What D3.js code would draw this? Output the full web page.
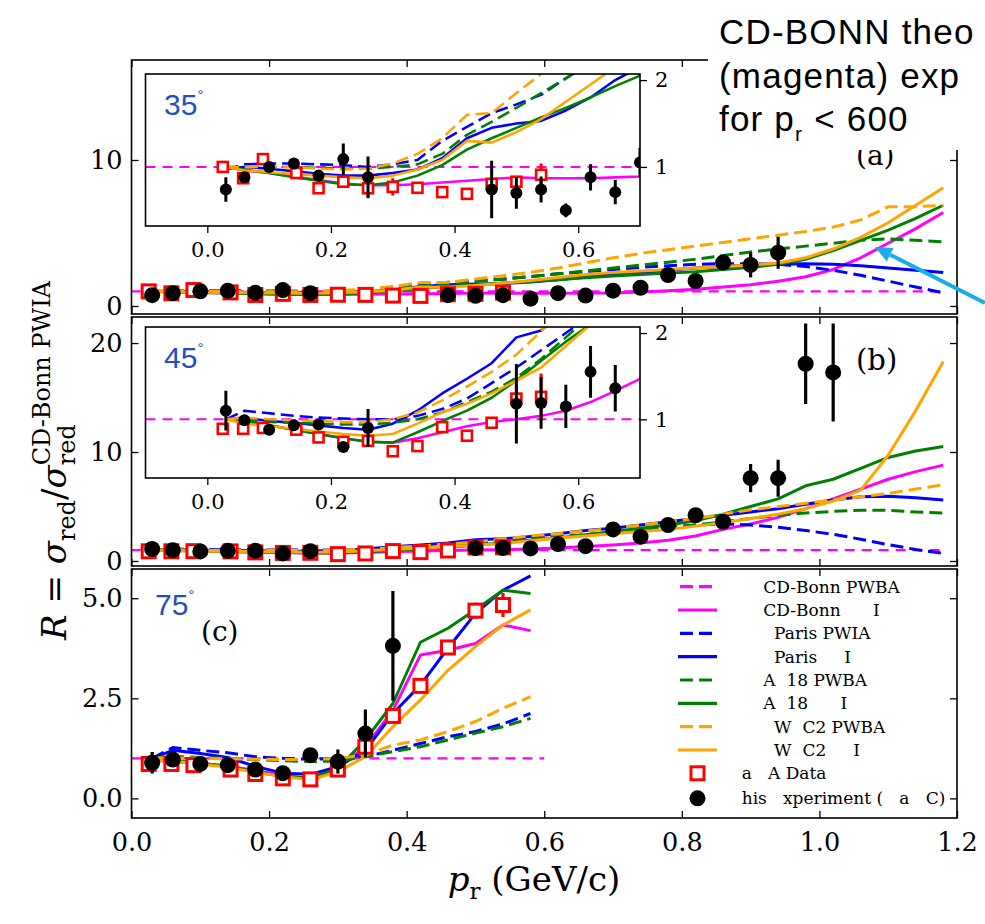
<!DOCTYPE html>
<html><head><meta charset="utf-8">
<script src="https://cdn.jsdelivr.net/npm/d3@7"></script>
<style>body{margin:0;background:#fff} svg{display:block}</style>
</head><body>
<svg id="chart" width="985" height="924"></svg>
<script>
// ---------------- DATA ----------------
const gridAB = [0.03,0.06,0.10,0.14,0.18,0.22,0.26,0.30,0.34,0.38,0.42,0.46,0.50,0.54,0.58,0.62,0.66,0.70,0.74,0.78,0.82,0.86,0.90,0.94,0.98,1.02,1.06,1.10,1.14,1.18];
const gridC = [0.03,0.06,0.10,0.14,0.18,0.22,0.26,0.30,0.34,0.38,0.42,0.46,0.50,0.54,0.58];
const pwbaXab = [-0.1, 1.18];
const pwbaXc = [0.0, 0.6];
const pwbaY = [1, 1];

// panel (a) 35 deg
const a_cdbFSI = [1.0,0.96,0.93,0.89,0.85,0.81,0.79,0.79,0.80,0.82,0.84,0.86,0.88,0.87,0.87,0.87,0.88,0.89,0.95,1.05,1.15,1.3,1.45,1.7,2.0,2.5,3.3,4.3,5.3,6.4];
const a_parPWIA = [0.97,1.03,1.04,1.04,1.03,1.02,1.0,1.03,1.08,1.3,1.46,1.62,1.72,1.83,2.02,2.2,2.35,2.5,2.65,2.75,2.85,2.9,2.9,2.85,2.7,2.45,2.1,1.7,1.3,0.9];
const a_parFSI = [0.98,1.0,0.98,0.95,0.92,0.9,0.9,0.93,0.97,1.1,1.33,1.45,1.5,1.53,1.65,1.8,2.0,2.15,2.3,2.45,2.6,2.7,2.8,2.88,2.9,2.85,2.75,2.6,2.45,2.3];
const a_avPWBA = [1.0,1.0,1.0,1.0,0.99,0.98,0.98,1.0,1.03,1.15,1.37,1.52,1.68,1.85,2.02,2.2,2.4,2.6,2.8,3.0,3.2,3.45,3.7,3.9,4.1,4.3,4.5,4.6,4.5,4.4];
const a_avFSI = [1.0,0.97,0.93,0.88,0.84,0.80,0.79,0.82,0.9,1.02,1.2,1.33,1.45,1.57,1.68,1.8,1.93,2.05,2.15,2.25,2.35,2.5,2.65,2.85,3.2,3.8,4.5,5.2,6.0,6.9];
const a_wjPWBA = [1.0,1.0,1.0,1.0,0.98,0.97,0.98,1.04,1.15,1.33,1.6,1.62,1.85,2.07,2.3,2.6,2.95,3.3,3.6,3.85,4.1,4.35,4.6,4.85,5.1,5.4,5.9,6.8,6.8,6.9];
const a_wjFSI = [1.0,0.96,0.94,0.92,0.9,0.88,0.87,0.9,0.97,1.08,1.3,1.28,1.4,1.55,1.75,1.95,2.15,2.3,2.4,2.5,2.6,2.7,2.8,2.95,3.3,3.9,4.7,5.7,6.9,8.1];
const aBlackX = [0.03,0.06,0.10,0.14,0.18,0.22,0.26,0.46,0.50,0.54,0.58,0.62,0.66,0.70,0.74,0.78,0.82,0.86,0.90,0.94];
const aBlackY = [0.74,0.88,1.0,1.04,0.90,1.09,0.88,0.74,0.70,0.74,0.50,0.88,0.71,1.05,1.25,2.12,1.71,2.97,2.81,3.65];
const aBlackErr = [0.14,0.04,0.04,0.05,0.05,0.18,0.24,0.33,0.18,0.15,0.08,0.15,0.14,0.17,0.2,0.2,0.2,0.5,0.85,1.1];
const redX = [0.025,0.058,0.09,0.144,0.18,0.22,0.26,0.30,0.34,0.38,0.42,0.46,0.50,0.54];
const aRedY = [1.0,0.87,1.09,0.93,0.755,0.83,0.755,0.77,0.76,0.71,0.69,0.805,0.83,0.91];
const aRedErr = [0.02,0.02,0.04,0.02,0.03,0.03,0.1,0.1,0.04,0.02,0.02,0.04,0.05,0.13];

// panel (b) 45 deg
const b_cdbFSI = [1.0,0.97,0.93,0.88,0.83,0.78,0.74,0.73,0.78,0.85,0.92,0.97,1.0,1.04,1.1,1.2,1.33,1.47,1.65,1.9,2.3,2.9,3.4,4.0,4.8,5.7,6.6,7.5,8.2,8.8];
const b_parPWIA = [1.0,1.1,1.07,1.04,1.02,1.01,1.0,1.0,1.04,1.12,1.24,1.42,1.6,1.8,2.0,2.2,2.4,2.6,2.85,3.1,3.3,3.4,3.3,3.1,2.8,2.45,2.0,1.5,1.05,0.7];
const b_parFSI = [1.0,1.02,0.98,0.96,0.93,0.9,0.88,0.95,1.1,1.3,1.47,1.65,1.95,2.03,2.25,2.5,2.8,3.0,3.3,3.6,3.9,4.2,4.5,4.8,5.2,5.6,5.9,5.95,5.8,5.6];
const b_avPWBA = [1.0,0.98,0.97,0.96,0.95,0.94,0.94,0.96,1.0,1.08,1.2,1.32,1.48,1.7,1.95,2.2,2.4,2.6,2.8,3.0,3.3,3.6,3.9,4.2,4.4,4.55,4.65,4.65,4.5,4.4];
const b_avFSI = [1.0,0.97,0.93,0.88,0.83,0.78,0.74,0.73,0.85,0.98,1.1,1.25,1.45,1.68,1.9,2.1,2.4,2.7,3.0,3.3,3.7,4.3,5.0,5.7,6.9,7.5,8.5,9.5,10.1,10.5];
const b_wjPWBA = [1.0,1.02,1.0,0.99,0.98,0.97,0.97,1.0,1.08,1.22,1.38,1.55,1.75,2.02,2.3,2.5,2.75,3.0,3.3,3.6,3.9,4.3,4.7,5.0,5.3,5.6,5.9,6.2,6.6,7.0];
const b_wjFSI = [1.0,0.95,0.92,0.89,0.86,0.83,0.81,0.83,0.95,1.08,1.18,1.3,1.45,1.6,1.85,2.1,2.3,2.5,2.7,2.9,3.2,3.5,3.9,4.3,4.8,5.5,6.5,9.7,13.8,18.3];
const bBlackX = [0.03,0.06,0.10,0.14,0.18,0.22,0.26,0.50,0.54,0.58,0.62,0.66,0.70,0.74,0.78,0.82,0.86,0.90,0.94,0.98,1.02];
const bBlackY = [1.10,0.99,0.88,0.93,0.94,0.68,0.90,1.18,1.19,1.15,1.55,1.36,2.9,2.23,3.3,4.2,3.6,7.6,7.6,18.1,17.3];
const bBlackErr = [0.23,0.03,0.03,0.03,0.06,0.05,0.22,0.46,0.30,0.25,0.30,0.27,0.3,0.3,0.3,0.3,0.3,1.3,1.7,3.7,4.5];
const bRedY = [0.89,0.89,0.90,0.88,0.79,0.74,0.75,0.63,0.69,0.91,0.81,0.96,1.24,1.26];
const bRedErr = [0.02,0.02,0.02,0.02,0.02,0.03,0.05,0.03,0.03,0.04,0.03,0.06,0.16,0.27];

// panel (c) 75 deg
const c_cdbFSI = [0.95,0.92,0.88,0.80,0.70,0.58,0.50,0.75,1.29,2.2,3.58,3.7,3.87,4.33,4.19];
const c_parPWIA = [1.0,1.27,1.2,1.14,1.04,1.0,0.98,1.0,1.04,1.2,1.37,1.54,1.67,1.86,2.12];
const c_parFSI = [1.0,1.2,1.12,1.02,0.8,0.63,0.6,0.79,1.2,2.12,2.83,3.75,4.62,5.2,5.56];
const c_avPWBA = [1.0,1.05,1.02,1.0,0.97,0.94,0.92,0.93,1.04,1.17,1.29,1.46,1.63,1.79,2.0];
const c_avFSI = [0.95,0.95,0.88,0.80,0.66,0.55,0.5,0.75,1.46,2.37,3.9,4.25,4.71,5.2,5.12];
const c_wjPWBA = [1.0,1.02,1.0,0.99,0.98,0.97,0.97,1.0,1.08,1.33,1.46,1.67,1.92,2.25,2.54];
const c_wjFSI = [0.95,0.93,0.86,0.78,0.65,0.55,0.46,0.67,1.04,1.79,2.46,3.2,3.79,4.33,4.71];
const cBlackX = [0.03,0.06,0.10,0.14,0.18,0.22,0.26,0.30,0.34,0.38];
const cBlackY = [0.89,0.97,0.86,0.83,0.72,0.63,1.08,0.92,1.62,3.81];
const cBlackErr = [0.27,0.05,0.05,0.05,0.05,0.05,0.1,0.3,0.6,1.37];
const cRedY = [0.86,0.86,0.83,0.72,0.61,0.50,0.475,0.72,1.29,2.06,2.81,3.77,4.69,4.83];
const cRedErr = [0.03,0.03,0.03,0.03,0.03,0.03,0.03,0.05,0.05,0.08,0.1,0.1,0.2,0.3];

// tick labels / text
const xTicks = [0.0,0.2,0.4,0.6,0.8,1.0,1.2];
const insetXTicks = [0.0,0.2,0.4,0.6];
const insetYTicks = [1, 2];
const aYTicks = [0, 10];
const bYTicks = [0, 10, 20];
const cYTicks = [0.0, 2.5, 5.0];
const legendLabels = ["    CD-Bonn PWBA","    CD-Bonn      I","      Paris PWIA","      Paris     I","    A  18 PWBA","    A  18      I","      W  C2 PWBA","      W  C2     I","a   A Data","his   xperiment (   a   C)"];
const noteLines = ["CD-BONN theo", "(magenta) exp"];

// ---------------- STYLES ----------------
const seriesStyle = [
  {color:'#ff00ff', dash:'10,7', w:2.4},   // CD-Bonn PWBA
  {color:'#ff00ff', dash:null, w:3},       // CD-Bonn FSI
  {color:'#0000ff', dash:'13,6', w:3},     // Paris PWIA
  {color:'#0000ff', dash:null, w:3},       // Paris FSI
  {color:'#008000', dash:'13,6', w:3},     // AV18 PWBA
  {color:'#008000', dash:null, w:3},       // AV18 FSI
  {color:'#ffa500', dash:'13,6', w:3},     // WJC2 PWBA
  {color:'#ffa500', dash:null, w:3}        // WJC2 FSI
];
const SERIF = 'DejaVu Serif';

const svg = d3.select('#chart');
const defs = svg.append('defs');
svg.append('rect').attr('width',985).attr('height',924).attr('fill','#fff');

const X0 = 131.5, X1 = 957;
const x = d3.scaleLinear().domain([0,1.2]).range([X0, X1]);

const panels = [
  {key:'a', top:60, bottom:314, yDomain:[-0.55,16.85], yTicks:aYTicks, fmt:d3.format('d'),
   grid:gridAB, pwbaX:pwbaXab, curves:[a_cdbFSI,a_parPWIA,a_parFSI,a_avPWBA,a_avFSI,a_wjPWBA,a_wjFSI],
   black:[aBlackX,aBlackY,aBlackErr], red:[redX,aRedY,aRedErr],
   inset:{top:74,bottom:226, label:'35'}},
  {key:'b', top:317, bottom:566, yDomain:[-0.46,22.39], yTicks:bYTicks, fmt:d3.format('d'),
   grid:gridAB, pwbaX:pwbaXab, curves:[b_cdbFSI,b_parPWIA,b_parFSI,b_avPWBA,b_avFSI,b_wjPWBA,b_wjFSI],
   black:[bBlackX,bBlackY,bBlackErr], red:[redX,bRedY,bRedErr],
   inset:{top:327,bottom:478, label:'45'}},
  {key:'c', top:569, bottom:818, yDomain:[-0.49,5.73], yTicks:cYTicks, fmt:d3.format('.1f'),
   grid:gridC, pwbaX:pwbaXc, curves:[c_cdbFSI,c_parPWIA,c_parFSI,c_avPWBA,c_avFSI,c_wjPWBA,c_wjFSI],
   black:[cBlackX,cBlackY,cBlackErr], red:[redX,cRedY,cRedErr], inset:null}
];

function drawCurves(g, p, xs, ys, wScale) {
  const line = d3.line().x(d=>xs(d[0])).y(d=>ys(d[1]));
  const all = [d3.zip(p.pwbaX, pwbaY)].concat(p.curves.map(c => d3.zip(p.grid, c)));
  all.forEach((pts, i) => {
    const st = seriesStyle[i];
    g.append('path').attr('d', line(pts)).attr('fill','none')
      .attr('stroke', st.color).attr('stroke-width', st.w*wScale)
      .attr('stroke-dasharray', st.dash).attr('stroke-linejoin','round');
  });
}
function drawMarkers(g, p, xs, ys, o) {
  const [rx, ry, re] = p.red;
  rx.forEach((v,i) => {
    g.append('line').attr('x1',xs(v)).attr('x2',xs(v)).attr('y1',ys(ry[i]-re[i])).attr('y2',ys(ry[i]+re[i]))
      .attr('stroke','#ff0000').attr('stroke-width',o.ew);
  });
  rx.forEach((v,i) => {
    g.append('rect').attr('x',xs(v)-o.s/2).attr('y',ys(ry[i])-o.s/2).attr('width',o.s).attr('height',o.s)
      .attr('fill','#fff').attr('stroke','#ff0000').attr('stroke-width',o.sw);
  });
  const [bx, by, be] = p.black;
  bx.forEach((v,i) => {
    g.append('line').attr('x1',xs(v)).attr('x2',xs(v)).attr('y1',ys(by[i]-be[i])).attr('y2',ys(by[i]+be[i]))
      .attr('stroke','#000').attr('stroke-width',o.ew);
    g.append('circle').attr('cx',xs(v)).attr('cy',ys(by[i])).attr('r',o.r).attr('fill','#000');
  });
}
function styleAxis(g, size) {
  g.select('.domain').remove();
  g.selectAll('line').attr('stroke','#000').attr('stroke-width',1.3);
  g.selectAll('text').attr('font-family',SERIF).attr('font-size',size).attr('fill','#000');
}

panels.forEach(p => {
  const y = d3.scaleLinear().domain(p.yDomain).range([p.bottom, p.top]);
  const clipId = 'clip-' + p.key;
  defs.append('clipPath').attr('id',clipId).append('rect')
    .attr('x',X0).attr('y',p.top).attr('width',X1-X0).attr('height',p.bottom-p.top);
  const g = svg.append('g');
  const plot = g.append('g').attr('clip-path',`url(#${clipId})`);
  drawCurves(plot, p, x, y, 1);
  drawMarkers(plot, p, x, y, {r:8, s:13, sw:3, ew:3.2});

  // axes (inward ticks on all sides)
  const gl = g.append('g').attr('transform',`translate(${X0},0)`)
    .call(d3.axisLeft(y).tickValues(p.yTicks).tickSize(-7).tickPadding(9).tickFormat(p.fmt));
  styleAxis(gl, 25.5);
  const gr = g.append('g').attr('transform',`translate(${X1},0)`)
    .call(d3.axisRight(y).tickValues(p.yTicks).tickSize(-7).tickFormat(''));
  styleAxis(gr, 25.5);
  const gt = g.append('g').attr('transform',`translate(0,${p.top})`)
    .call(d3.axisTop(x).tickValues(xTicks).tickSize(-7).tickFormat(''));
  styleAxis(gt, 25.5);
  const gb = g.append('g').attr('transform',`translate(0,${p.bottom})`)
    .call(d3.axisBottom(x).tickValues(xTicks).tickSize(-7).tickPadding(15)
      .tickFormat(p.key==='c' ? d3.format('.1f') : ''));
  styleAxis(gb, 25.5);
  g.append('rect').attr('x',X0).attr('y',p.top).attr('width',X1-X0).attr('height',p.bottom-p.top)
    .attr('fill','none').attr('stroke','#000').attr('stroke-width',1.6);

  // inset
  if (p.inset) {
    const IL = 145.5, IR = 640;
    const ix = d3.scaleLinear().domain([-0.1,0.7]).range([IL, IR]);
    const iy = d3.scaleLinear().domain([0.32,2.07]).range([p.inset.bottom, p.inset.top]);
    const ig = svg.append('g');
    ig.append('rect').attr('x',IL).attr('y',p.inset.top).attr('width',IR-IL).attr('height',p.inset.bottom-p.inset.top).attr('fill','#fff');
    const icid = 'iclip-' + p.key;
    defs.append('clipPath').attr('id',icid).append('rect')
      .attr('x',IL).attr('y',p.inset.top).attr('width',IR-IL).attr('height',p.inset.bottom-p.inset.top);
    const ip = ig.append('g').attr('clip-path',`url(#${icid})`);
    drawCurves(ip, p, ix, iy, 0.85);
    drawMarkers(ip, p, ix, iy, {r:6, s:10, sw:2.6, ew:3});
    const ib = ig.append('g').attr('transform',`translate(0,${p.inset.bottom})`)
      .call(d3.axisBottom(ix).tickValues(insetXTicks).tickSize(7).tickPadding(9).tickFormat(d3.format('.1f')));
    styleAxis(ib, 21);
    const ir = ig.append('g').attr('transform',`translate(${IR},0)`)
      .call(d3.axisRight(iy).tickValues(insetYTicks).tickSize(7).tickPadding(8).tickFormat(d3.format('d')));
    styleAxis(ir, 21);
    ig.append('rect').attr('x',IL).attr('y',p.inset.top).attr('width',IR-IL).attr('height',p.inset.bottom-p.inset.top)
      .attr('fill','none').attr('stroke','#000').attr('stroke-width',1.6);
    const t = ig.append('text').attr('x',164).attr('y',p.inset.top+41)
      .attr('font-family','Liberation Sans').attr('font-size',30).attr('fill','#1f4fc0');
    t.append('tspan').text(p.inset.label);
    t.append('tspan').attr('font-size',15).attr('dy',-15).text('°');
  }
});

// panel labels
svg.append('text').attr('x',856).attr('y',370).attr('font-family',SERIF).attr('font-size',29).text('(b)');
svg.append('text').attr('x',201).attr('y',641).attr('font-family',SERIF).attr('font-size',28).text('(c)');
svg.append('text').attr('x',856).attr('y',165).attr('font-family',SERIF).attr('font-size',28).text('(a)');
{
  const t = svg.append('text').attr('x',155).attr('y',615)
    .attr('font-family','Liberation Sans').attr('font-size',30).attr('fill','#1f4fc0');
  t.append('tspan').text('75');
  t.append('tspan').attr('font-size',15).attr('dy',-15).text('°');
}

// legend (panel c)
{
  const lg = svg.append('g');
  const ys0 = [586.7,610,633.3,656.7,680,703.3,726.7,750,773.3,798.3];
  legendLabels.forEach((lab, i) => {
    const cy = ys0[i];
    if (i < 8) {
      const st = seriesStyle[i];
      lg.append('line').attr('x1', st.dash ? 680 : 678).attr('x2', st.dash ? 714 : 717)
        .attr('y1',cy).attr('y2',cy).attr('stroke',st.color).attr('stroke-width',3.2)
        .attr('stroke-dasharray', st.dash ? '13,6' : null);
    } else if (i === 8) {
      lg.append('rect').attr('x',691).attr('y',cy-6.5).attr('width',13).attr('height',13)
        .attr('fill','#fff').attr('stroke','#ff0000').attr('stroke-width',3);
    } else {
      lg.append('circle').attr('cx',697.5).attr('cy',cy).attr('r',8).attr('fill','#000');
    }
    lg.append('text').attr('x',741.7).attr('y',cy+6).attr('font-family',SERIF).attr('font-size',17)
      .style('white-space','pre').attr('fill','#000').text(lab);
  });
}

// axis titles
{
  const t = svg.append('text').attr('y',891).attr('font-family',SERIF).attr('font-size',34).attr('fill','#000');
  t.append('tspan').attr('font-style','italic').text('p');
  t.append('tspan').attr('font-size',23).attr('dy',8).text('r');
  t.append('tspan').attr('dy',-8).text(' (GeV/c)');
  const w = t.node().getComputedTextLength();
  t.attr('x', 534 - w/2);
}
{
  const g = svg.append('g').attr('transform','translate(66,640) rotate(-90)');
  let u = 0;
  const add = (txt, size, dy, italic) => {
    const t = g.append('text').attr('x',u).attr('y',dy).attr('font-family',SERIF).attr('font-size',size)
      .attr('font-style', italic ? 'italic' : 'normal').style('white-space','pre').attr('fill','#000').text(txt);
    return t.node().getComputedTextLength();
  };
  u += add('R', 34, 0, true);
  u += add(' = ', 34, 0, false);
  u += add('σ', 34, 0, true);
  u += add('red', 24, 9, false);
  u += add('/', 34, 0, false);
  u += add('σ', 34, 0, true);
  add('red', 24, 9, false);
  add('CD-Bonn PWIA', 24, -16, false);
}

// annotation (overlay)
svg.append('rect').attr('x',708).attr('y',0).attr('width',277).attr('height',150).attr('fill','#fff');
{
  const F = 'Liberation Sans';
  const base = [44, 88];
  noteLines.forEach((s, i) => {
    svg.append('text').attr('x',719).attr('y',base[i]).attr('font-family',F).attr('font-size',35)
      .attr('letter-spacing',1.2).attr('fill','#000').text(s);
  });
  const t = svg.append('text').attr('x',719).attr('y',131).attr('font-family',F).attr('font-size',35)
    .attr('letter-spacing',1.2).attr('fill','#000');
  t.append('tspan').text('for p');
  t.append('tspan').attr('font-size',21).attr('dy',10).text('r');
  t.append('tspan').attr('dy',-10).text(' < 600');
}
// cyan arrow
{
  const tip = [875,247], tail = [985,303];
  const dx = tip[0]-tail[0], dy = tip[1]-tail[1], L = Math.hypot(dx,dy);
  const ux = dx/L, uy = dy/L, hl = 17, hw = 7.5;
  const bx = tip[0]-ux*hl, by = tip[1]-uy*hl;
  svg.append('line').attr('x1',tail[0]).attr('y1',tail[1]).attr('x2',bx).attr('y2',by)
    .attr('stroke','#1aaee8').attr('stroke-width',4);
  svg.append('polygon').attr('points',[[tip[0],tip[1]],[bx-uy*hw,by+ux*hw],[bx+uy*hw,by-ux*hw]].map(p=>p.join(',')).join(' '))
    .attr('fill','#1aaee8');
}
</script>
</body></html>
